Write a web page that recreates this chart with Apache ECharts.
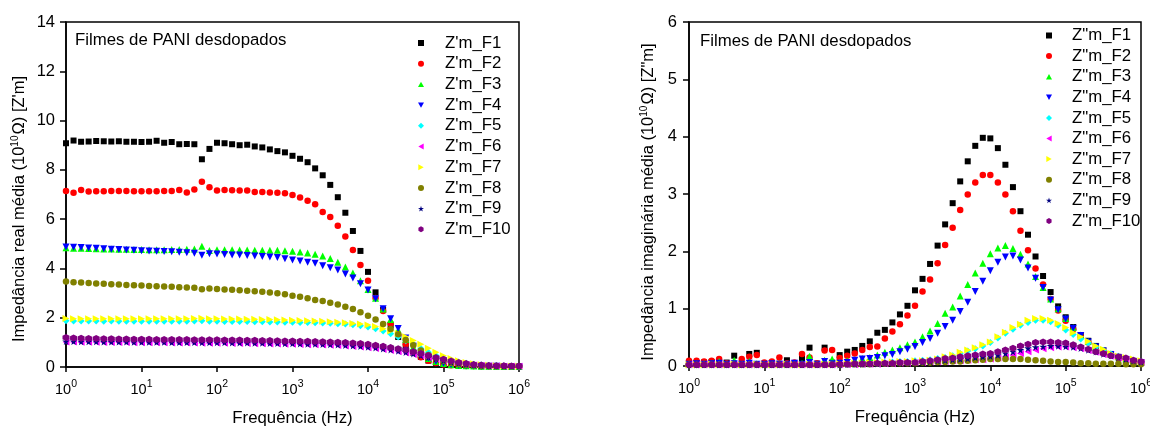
<!DOCTYPE html>
<html>
<head>
<meta charset="utf-8">
<script src="https://cdn.jsdelivr.net/npm/echarts@6/dist/echarts.min.js"></script>
<style>
  html, body { margin: 0; padding: 0; background: #fff; }
  #chart { width: 1150px; height: 427px; }
</style>
</head>
<body>
<div id="chart"></div>
<script>
// Frequency sweep: 10 points per decade, 1 Hz .. 1 MHz
const freqHz = Array.from({ length: 61 }, (_, i) => Math.pow(10, i / 10));

const sampleNames = ['F1', 'F2', 'F3', 'F4', 'F5', 'F6', 'F7', 'F8', 'F9', 'F10'];

// Mean real impedance Z'm (x 10^10 ohm)
const realF1 = [9.08,9.19,9.14,9.15,9.17,9.16,9.15,9.16,9.14,9.14,
  9.13,9.14,9.18,9.10,9.13,9.04,9.05,9.04,8.43,8.85,
  9.10,9.08,9.04,9.00,9.02,8.95,8.91,8.83,8.76,8.71,
  8.57,8.45,8.31,8.06,7.78,7.39,6.89,6.26,5.52,4.71,
  3.86,3.03,2.32,1.70,1.22,0.88,0.58,0.41,0.26,0.17,
  0.11,0.08,0.06,0.05,0.04,0.03,0.03,0.03,0.02,0.02,0.02];
const realF2 = [7.14,7.07,7.18,7.12,7.13,7.13,7.14,7.14,7.14,7.13,
  7.13,7.13,7.13,7.14,7.14,7.18,7.08,7.20,7.52,7.29,
  7.16,7.18,7.17,7.16,7.16,7.10,7.10,7.08,7.07,7.05,
  6.98,6.88,6.75,6.60,6.29,6.09,5.73,5.30,4.75,4.14,
  3.50,2.80,2.27,1.77,1.28,0.92,0.62,0.40,0.25,0.16,
  0.10,0.07,0.05,0.04,0.04,0.03,0.03,0.02,0.02,0.02,0.02];
const realF3 = [4.84,4.82,4.82,4.81,4.80,4.79,4.79,4.78,4.78,4.77,
  4.77,4.76,4.76,4.76,4.77,4.77,4.78,4.79,4.90,4.73,
  4.76,4.76,4.76,4.75,4.75,4.74,4.74,4.74,4.74,4.72,
  4.70,4.67,4.63,4.58,4.50,4.40,4.25,4.06,3.81,3.50,
  3.15,2.79,2.35,1.93,1.50,1.12,0.80,0.54,0.35,0.22,
  0.14,0.09,0.06,0.05,0.04,0.03,0.03,0.03,0.02,0.02,0.02];
const realF4 = [4.87,4.86,4.85,4.83,4.82,4.80,4.78,4.77,4.75,4.74,
  4.72,4.71,4.70,4.69,4.68,4.66,4.64,4.62,4.53,4.60,
  4.59,4.57,4.55,4.54,4.52,4.50,4.48,4.46,4.44,4.39,
  4.34,4.30,4.25,4.21,4.11,4.03,3.94,3.77,3.61,3.38,
  3.12,2.77,2.36,1.96,1.56,1.18,0.84,0.57,0.37,0.23,
  0.15,0.10,0.07,0.05,0.04,0.03,0.03,0.03,0.02,0.02,0.02];
const realF5 = [1.88,1.87,1.87,1.87,1.87,1.86,1.87,1.86,1.86,1.86,
  1.86,1.86,1.86,1.86,1.86,1.86,1.86,1.87,1.88,1.86,
  1.86,1.85,1.85,1.85,1.85,1.84,1.84,1.83,1.83,1.82,
  1.82,1.81,1.81,1.80,1.79,1.78,1.76,1.74,1.71,1.67,
  1.62,1.55,1.46,1.35,1.22,1.07,0.91,0.75,0.60,0.47,
  0.36,0.27,0.20,0.15,0.11,0.08,0.06,0.05,0.04,0.03,0.03];
const realF6 = [1.01,1.01,1.00,1.00,1.00,0.99,0.99,0.99,0.99,0.98,
  0.98,0.98,0.98,0.98,0.97,0.97,0.97,0.97,0.96,0.96,
  0.96,0.96,0.95,0.95,0.95,0.94,0.94,0.93,0.93,0.92,
  0.92,0.91,0.90,0.90,0.89,0.88,0.87,0.85,0.83,0.81,
  0.78,0.75,0.71,0.67,0.62,0.57,0.51,0.45,0.38,0.31,
  0.25,0.19,0.14,0.10,0.08,0.06,0.05,0.04,0.03,0.03,0.03];
const realF7 = [1.97,1.96,1.96,1.96,1.96,1.96,1.96,1.96,1.96,1.96,
  1.96,1.96,1.96,1.96,1.96,1.96,1.96,1.97,1.98,1.96,
  1.96,1.95,1.95,1.95,1.94,1.94,1.93,1.93,1.92,1.91,
  1.90,1.89,1.88,1.87,1.86,1.84,1.82,1.80,1.77,1.74,
  1.70,1.64,1.55,1.46,1.36,1.23,1.08,0.92,0.76,0.60,
  0.46,0.34,0.25,0.18,0.13,0.09,0.07,0.05,0.04,0.03,0.03];
const realF8 = [3.47,3.44,3.43,3.41,3.39,3.38,3.36,3.35,3.33,3.32,
  3.31,3.29,3.28,3.27,3.26,3.24,3.23,3.22,3.16,3.19,
  3.17,3.15,3.13,3.11,3.09,3.07,3.05,3.02,2.99,2.95,
  2.89,2.85,2.79,2.72,2.68,2.61,2.54,2.45,2.35,2.22,
  2.08,1.93,1.75,1.54,1.33,1.10,0.88,0.67,0.49,0.35,
  0.25,0.17,0.12,0.09,0.07,0.05,0.04,0.04,0.03,0.03,0.03];
const realF9 = [1.04,1.04,1.03,1.03,1.03,1.02,1.02,1.02,1.02,1.01,
  1.01,1.01,1.01,1.01,1.00,1.00,1.00,1.00,0.99,0.99,
  0.99,0.99,0.98,0.98,0.98,0.97,0.97,0.96,0.96,0.95,
  0.95,0.94,0.93,0.93,0.92,0.91,0.90,0.88,0.86,0.84,
  0.81,0.78,0.74,0.70,0.65,0.60,0.54,0.47,0.40,0.33,
  0.26,0.20,0.15,0.11,0.08,0.06,0.05,0.04,0.04,0.03,0.03];
const realF10 = [1.20,1.18,1.17,1.16,1.16,1.15,1.15,1.14,1.14,1.13,
  1.13,1.13,1.12,1.12,1.12,1.12,1.12,1.11,1.11,1.11,
  1.11,1.10,1.10,1.10,1.09,1.09,1.08,1.08,1.07,1.06,
  1.06,1.05,1.04,1.03,1.02,1.01,1.00,0.99,0.97,0.95,
  0.92,0.88,0.84,0.79,0.74,0.70,0.62,0.55,0.47,0.39,
  0.31,0.24,0.18,0.14,0.10,0.08,0.06,0.05,0.05,0.04,0.04];

// Mean imaginary impedance Z''m (x 10^10 ohm)
const imagF1 = [0.05,0.05,0.06,0.07,0.06,0.06,0.18,0.04,0.21,0.23,
  0.04,0.05,0.04,0.10,0.04,0.14,0.32,0.04,0.32,0.06,
  0.19,0.25,0.28,0.35,0.43,0.58,0.63,0.76,0.90,1.05,
  1.32,1.52,1.78,2.10,2.47,2.84,3.22,3.57,3.84,3.98,
  3.97,3.80,3.51,3.12,2.70,2.29,1.91,1.57,1.29,1.04,
  0.85,0.68,0.54,0.44,0.35,0.27,0.21,0.16,0.12,0.09,0.07];
const imagF2 = [0.09,0.09,0.08,0.09,0.12,0.05,0.05,0.12,0.16,0.19,
  0.06,0.08,0.15,0.05,0.06,0.21,0.15,0.05,0.27,0.28,
  0.14,0.18,0.22,0.28,0.33,0.34,0.48,0.60,0.73,0.88,
  1.05,1.30,1.51,1.79,2.11,2.41,2.72,2.99,3.20,3.33,
  3.33,3.20,2.99,2.70,2.36,2.02,1.70,1.42,1.17,0.97,
  0.79,0.64,0.51,0.41,0.32,0.25,0.19,0.14,0.11,0.08,0.06];
const imagF3 = [0.04,0.04,0.04,0.05,0.08,0.03,0.10,0.03,0.08,0.04,
  0.03,0.03,0.04,0.03,0.04,0.05,0.17,0.03,0.10,0.12,
  0.06,0.09,0.11,0.13,0.15,0.19,0.24,0.28,0.32,0.37,
  0.42,0.51,0.61,0.74,0.92,1.03,1.22,1.42,1.62,1.79,
  1.96,2.06,2.10,2.05,1.95,1.78,1.56,1.37,1.17,1.00,
  0.83,0.67,0.54,0.43,0.34,0.27,0.21,0.16,0.12,0.09,0.07];
const imagF4 = [0.03,0.04,0.03,0.04,0.05,0.03,0.04,0.03,0.05,0.03,
  0.03,0.04,0.03,0.03,0.05,0.03,0.06,0.03,0.08,0.04,
  0.05,0.06,0.10,0.12,0.13,0.15,0.18,0.20,0.25,0.29,
  0.34,0.41,0.48,0.57,0.69,0.80,0.95,1.11,1.30,1.48,
  1.66,1.81,1.90,1.92,1.85,1.71,1.53,1.37,1.15,0.98,
  0.82,0.66,0.53,0.42,0.33,0.26,0.20,0.15,0.11,0.08,0.06];
const imagF5 = [0.02,0.02,0.02,0.02,0.03,0.02,0.02,0.02,0.03,0.02,
  0.02,0.02,0.02,0.02,0.02,0.02,0.03,0.02,0.03,0.02,
  0.03,0.03,0.04,0.04,0.05,0.05,0.06,0.07,0.08,0.08,
  0.09,0.10,0.11,0.13,0.15,0.18,0.22,0.26,0.30,0.35,
  0.41,0.49,0.57,0.64,0.71,0.76,0.80,0.80,0.77,0.71,
  0.63,0.55,0.47,0.40,0.33,0.27,0.21,0.17,0.13,0.10,0.08];
const imagF6 = [0.02,0.02,0.02,0.02,0.02,0.02,0.02,0.02,0.02,0.02,
  0.02,0.02,0.02,0.02,0.02,0.02,0.02,0.02,0.02,0.02,
  0.02,0.02,0.02,0.03,0.03,0.03,0.04,0.04,0.05,0.05,
  0.06,0.06,0.07,0.07,0.08,0.09,0.09,0.10,0.11,0.11,
  0.12,0.14,0.16,0.19,0.22,0.25,0.28,0.30,0.32,0.33,
  0.33,0.32,0.30,0.27,0.24,0.20,0.17,0.14,0.11,0.08,0.06];
const imagF7 = [0.02,0.02,0.02,0.03,0.02,0.02,0.03,0.02,0.02,0.03,
  0.02,0.02,0.02,0.03,0.02,0.02,0.03,0.02,0.03,0.03,
  0.04,0.04,0.05,0.05,0.06,0.06,0.07,0.07,0.08,0.08,
  0.09,0.09,0.10,0.12,0.16,0.19,0.24,0.28,0.32,0.37,
  0.42,0.51,0.59,0.67,0.73,0.80,0.83,0.83,0.80,0.74,
  0.67,0.58,0.51,0.43,0.35,0.29,0.22,0.17,0.15,0.12,0.09];
const imagF8 = [0.02,0.02,0.02,0.02,0.02,0.02,0.02,0.02,0.02,0.02,
  0.02,0.02,0.02,0.02,0.02,0.02,0.02,0.02,0.02,0.02,
  0.02,0.03,0.03,0.03,0.03,0.04,0.04,0.04,0.05,0.05,
  0.05,0.06,0.06,0.07,0.07,0.08,0.08,0.09,0.10,0.11,
  0.12,0.12,0.12,0.12,0.12,0.11,0.10,0.09,0.08,0.07,
  0.07,0.06,0.05,0.05,0.04,0.04,0.04,0.04,0.03,0.03,0.03];
const imagF9 = [0.02,0.02,0.02,0.02,0.02,0.02,0.02,0.02,0.02,0.02,
  0.02,0.02,0.02,0.02,0.02,0.02,0.02,0.02,0.02,0.02,
  0.02,0.03,0.03,0.03,0.04,0.04,0.05,0.05,0.06,0.06,
  0.07,0.07,0.08,0.09,0.10,0.11,0.12,0.13,0.15,0.16,
  0.17,0.19,0.22,0.25,0.28,0.31,0.33,0.34,0.35,0.35,
  0.34,0.33,0.31,0.28,0.25,0.21,0.18,0.15,0.12,0.09,0.07];
const imagF10 = [0.02,0.02,0.02,0.02,0.02,0.02,0.02,0.02,0.02,0.02,
  0.02,0.02,0.02,0.02,0.02,0.02,0.02,0.02,0.02,0.02,
  0.03,0.03,0.04,0.04,0.04,0.05,0.05,0.05,0.06,0.06,
  0.06,0.08,0.09,0.11,0.13,0.14,0.16,0.18,0.19,0.21,
  0.22,0.25,0.28,0.31,0.35,0.38,0.41,0.42,0.42,0.41,
  0.40,0.37,0.33,0.29,0.25,0.22,0.18,0.16,0.14,0.10,0.08];

const realSets = [realF1, realF2, realF3, realF4, realF5, realF6, realF7, realF8, realF9, realF10];
const imagSets = [imagF1, imagF2, imagF3, imagF4, imagF5, imagF6, imagF7, imagF8, imagF9, imagF10];

const FONT = 'Liberation Sans, Arial, Helvetica, sans-serif';
const TEXT_SIZE = 16.8;
const TICK_SIZE = 16.5;

// Marker per sample: square, circle, up/down triangles, diamond, left/right triangles, circle, star, hexagon
const markers = [
  { color: '#000000', symbol: 'rect', size: 6 },
  { color: '#ff0000', symbol: 'circle', size: 6.5 },
  { color: '#00ff00', symbol: 'path://M5,0 L10,9 L0,9 Z', size: 7 },
  { color: '#0000ff', symbol: 'path://M0,0 L10,0 L5,9 Z', size: 7 },
  { color: '#00ffff', symbol: 'diamond', size: 7 },
  { color: '#ff00ff', symbol: 'path://M9,0 L9,10 L0,5 Z', size: 7 },
  { color: '#ffff00', symbol: 'path://M0,0 L0,10 L9,5 Z', size: 7 },
  { color: '#808000', symbol: 'circle', size: 6.5 },
  { color: '#000080', symbol: 'path://M50,0 L61,35 L98,35 L68,57 L79,91 L50,70 L21,91 L32,57 L2,35 L39,35 Z', size: 7.5 },
  { color: '#800080', symbol: 'path://M50,0 L93,25 L93,75 L50,100 L7,75 L7,25 Z', size: 7 }
];

const zip = (xs, ys) => xs.map((x, i) => [x, ys[i]]);

const realNames = sampleNames.map(n => "Z'm_" + n);
const imagNames = sampleNames.map(n => 'Z"m_' + n);

function buildSeries(names, sets, axisIndex) {
  return names.map((name, i) => ({
    type: 'scatter',
    name: name,
    xAxisIndex: axisIndex,
    yAxisIndex: axisIndex,
    data: zip(freqHz, sets[i]),
    symbol: markers[i].symbol,
    symbolSize: markers[i].size,
    itemStyle: { color: markers[i].color, opacity: 1 },
    silent: true,
    animation: false,
    z: 2 + i
  }));
}

const axisLineStyle = { color: '#000', width: 1.5 };

function logAxis(gridIndex) {
  return {
    type: 'log',
    logBase: 10,
    gridIndex: gridIndex,
    min: 1,
    max: 1e6,
    axisLine: { show: true, onZero: false, lineStyle: axisLineStyle },
    axisTick: { show: true, inside: false, length: 5, lineStyle: axisLineStyle },
    minorTick: { show: false },
    splitLine: { show: false },
    minorSplitLine: { show: false },
    axisLabel: {
      margin: 12.5,
      hideOverlap: false,
      formatter: v => '{b|10}{s|' + Math.round(Math.log10(v)) + '}',
      rich: {
        b: { fontSize: 14.5, fontFamily: FONT, color: '#000', verticalAlign: 'bottom', lineHeight: 18 },
        s: { fontSize: 10.5, fontFamily: FONT, color: '#000', verticalAlign: 'bottom', lineHeight: 11, padding: [0, 0, 8, 0] }
      }
    },
    name: 'Frequência (Hz)',
    nameLocation: 'middle',
    nameGap: 43,
    nameTextStyle: { fontSize: TEXT_SIZE, fontFamily: FONT, color: '#000' }
  };
}

function valueAxis(gridIndex, max, interval, margin) {
  return {
    type: 'value',
    gridIndex: gridIndex,
    min: 0,
    max: max,
    interval: interval,
    axisLine: { show: true, onZero: false, lineStyle: axisLineStyle },
    axisTick: { show: true, inside: false, length: 6, lineStyle: axisLineStyle },
    splitLine: { show: false },
    axisLabel: { margin: margin, fontSize: TICK_SIZE, fontFamily: FONT, color: '#000' }
  };
}

function legendFor(names, left, top, gap, textPad) {
  return {
    data: names,
    orient: 'vertical',
    left: left,
    top: top,
    padding: 0,
    itemWidth: 6,
    itemHeight: 6,
    itemGap: gap,
    selectedMode: false,
    textStyle: { fontSize: TEXT_SIZE, lineHeight: 16, fontFamily: FONT, color: '#000', padding: [0, 0, 0, textPad] }
  };
}

const titleRich = {
  a: { fontSize: 16.5, fontFamily: FONT, fill: '#000', color: '#000', verticalAlign: 'bottom', lineHeight: 18 },
  s: { fontSize: 10, fontFamily: FONT, fill: '#000', color: '#000', verticalAlign: 'bottom', lineHeight: 10, padding: [0, 1, 8, 0] }
};

const chart = echarts.init(document.getElementById('chart'), null, { renderer: 'canvas' });

chart.setOption({
  backgroundColor: '#ffffff',
  animation: false,
  grid: [
    { left: 66, top: 22, width: 453, height: 345, show: true, borderColor: '#000', borderWidth: 1.5, backgroundColor: 'transparent', containLabel: false, outerBoundsMode: 'none' },
    { left: 689, top: 22, width: 452, height: 344, show: true, borderColor: '#000', borderWidth: 1.5, backgroundColor: 'transparent', containLabel: false, outerBoundsMode: 'none' }
  ],
  xAxis: [logAxis(0), logAxis(1)],
  yAxis: [valueAxis(0, 14, 2, 11), valueAxis(1, 6, 1, 12)],
  legend: [legendFor(realNames, 418, 34.5, 3.7, 16), legendFor(imagNames, 1046, 27, 3.6, 15)],
  graphic: [
    { type: 'text', left: 75, top: 32, style: { text: 'Filmes de PANI desdopados', font: TEXT_SIZE + 'px ' + FONT, fill: '#000' } },
    { type: 'text', left: 700, top: 33, style: { text: 'Filmes de PANI desdopados', font: TEXT_SIZE + 'px ' + FONT, fill: '#000' } },
    {
      type: 'text', x: 19, y: 209, rotation: Math.PI / 2,
      style: { text: "{a|Impedância real média (10}{s|10}{a|Ω) [Z'm]}", rich: titleRich, align: 'center', verticalAlign: 'middle' }
    },
    {
      type: 'text', x: 648, y: 202, rotation: Math.PI / 2,
      style: { text: '{a|Impedância imaginária média (10}{s|10}{a|Ω) [Z"m]}', rich: titleRich, align: 'center', verticalAlign: 'middle' }
    }
  ],
  series: buildSeries(realNames, realSets, 0).concat(buildSeries(imagNames, imagSets, 1))
});
</script>
</body>
</html>
